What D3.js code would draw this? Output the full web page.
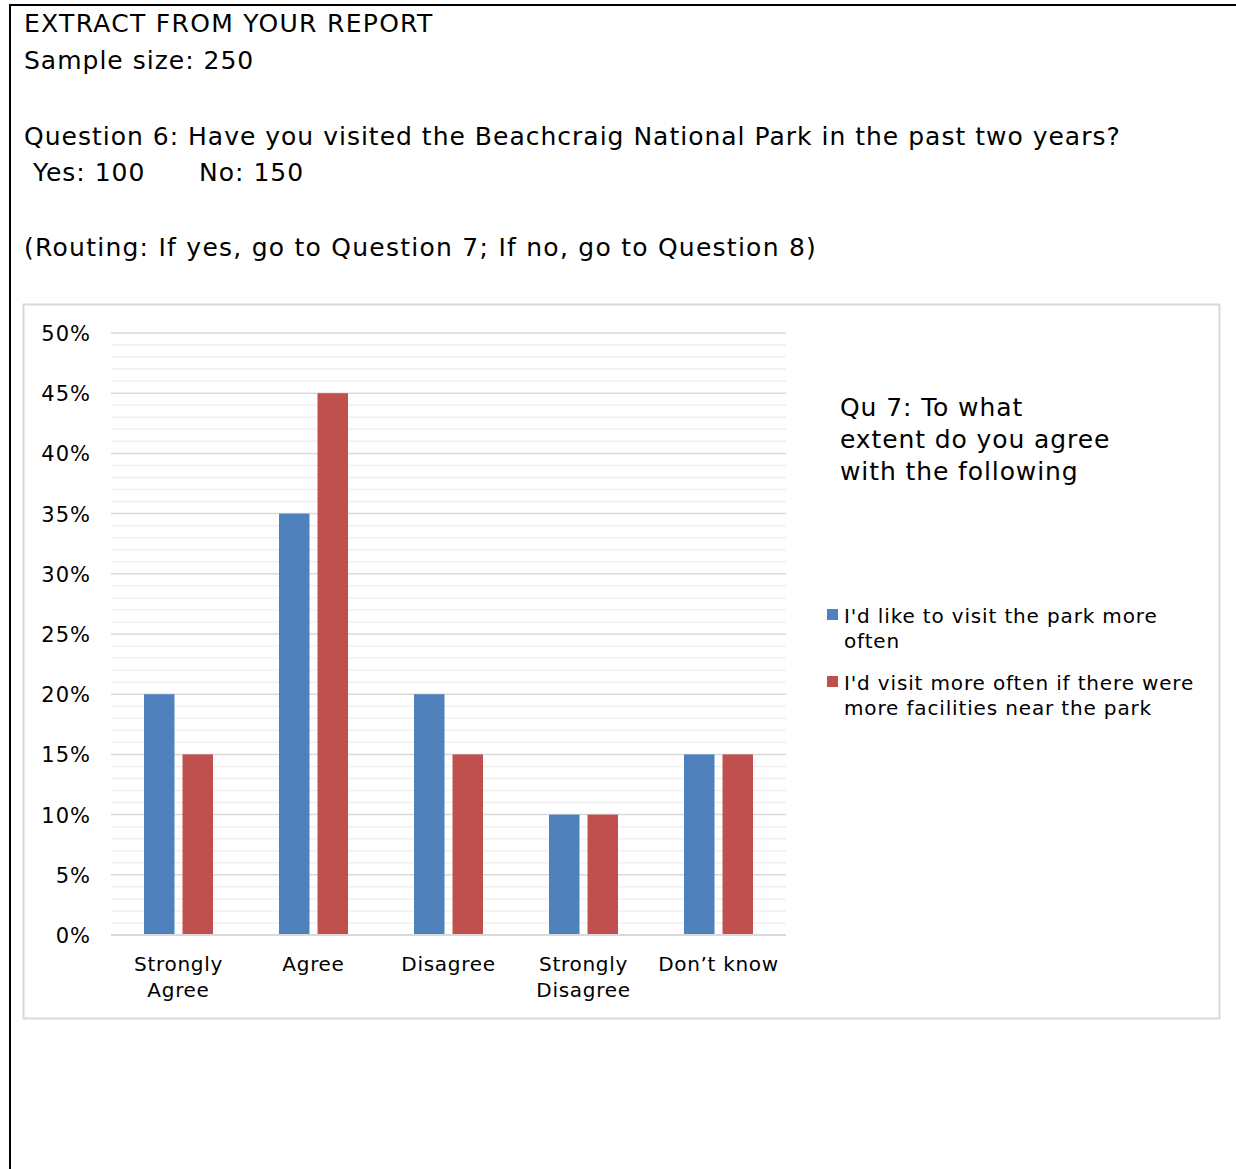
<!DOCTYPE html>
<html>
<head>
<meta charset="utf-8">
<script src="https://cdnjs.cloudflare.com/ajax/libs/d3/7.8.5/d3.min.js"></script>
<style>
  body { margin: 0; background: #fff; }
  svg text { font-family: "DejaVu Sans", Verdana, sans-serif; fill: #000; }
</style>
</head>
<body>
<div id="chart"></div>
<script>
var categories = [["Strongly", "Agree"], ["Agree"], ["Disagree"], ["Strongly", "Disagree"], ["Don\u2019t know"]];
var seriesNames = [["I'd like to visit the park more", "often"], ["I'd visit more often if there were", "more facilities near the park"]];
var likeMore = [20, 35, 20, 10, 15];
var facilities = [15, 45, 15, 10, 15];
var yTicks = [0, 5, 10, 15, 20, 25, 30, 35, 40, 45, 50];
var headerLines = [
    "EXTRACT FROM YOUR REPORT",
    "Sample size: 250",
    "Question 6: Have you visited the Beachcraig National Park in the past two years?",
    " Yes: 100\u00a0\u00a0\u00a0\u00a0\u00a0\u00a0No: 150",
    "(Routing: If yes, go to Question 7; If no, go to Question 8)"
];
var legendTitle = ["Qu 7: To what", "extent do you agree", "with the following"];

function init() {
    var W = 1236, H = 1169;
    var colors = ["#4F81BD", "#C0504D"];
    var series = [likeMore, facilities];

    var svg = d3.select("#chart").append("svg")
        .attr("width", W)
        .attr("height", H);

    // outer frame (top + left only visible)
    svg.append("line").attr("x1", 9).attr("x2", W).attr("y1", 5).attr("y2", 5)
        .attr("stroke", "#000").attr("stroke-width", 2);
    svg.append("line").attr("x1", 10).attr("x2", 10).attr("y1", 4).attr("y2", H)
        .attr("stroke", "#000").attr("stroke-width", 2);

    // header text
    var headerY = [32, 69, 145, 181, 256];
    var headerSpacing = [1.3, 1, 1, 1, 1.25];
    svg.selectAll("text.header")
        .data(headerLines)
        .enter()
        .append("text")
        .attr("class", "header")
        .attr("x", 24)
        .attr("y", function(d, i) { return headerY[i]; })
        .attr("font-size", "25px")
        .attr("letter-spacing", function(d, i) { return headerSpacing[i] + "px"; })
        .style("white-space", "pre")
        .text(function(d) { return d; });

    // chart box
    svg.append("rect")
        .attr("x", 23.5).attr("y", 304.5)
        .attr("width", 1196).attr("height", 714)
        .attr("fill", "#fff")
        .attr("stroke", "#d9d9d9")
        .attr("stroke-width", 2);

    var x0 = 111, x1 = 786, yTop = 333, yBot = 935;

    var yScale = d3.scaleLinear().domain([0, 50]).range([yBot, yTop]);
    var xScale = d3.scaleBand().domain(d3.range(categories.length)).range([x0, x1]);
    var xInner = d3.scaleBand().domain([0, 1]).range([0, 69]).paddingInner(0.208);

    // minor gridlines
    svg.append("g")
        .selectAll("line")
        .data(d3.range(0, 51).filter(function(d) { return d % 5 !== 0; }))
        .enter()
        .append("line")
        .attr("x1", x0).attr("x2", x1)
        .attr("y1", function(d) { return yScale(d); })
        .attr("y2", function(d) { return yScale(d); })
        .attr("stroke", "#f0f0f0")
        .attr("stroke-width", 1.5);

    // major gridlines
    svg.append("g")
        .selectAll("line")
        .data(yTicks.slice(1))
        .enter()
        .append("line")
        .attr("x1", x0).attr("x2", x1)
        .attr("y1", function(d) { return yScale(d); })
        .attr("y2", function(d) { return yScale(d); })
        .attr("stroke", "#d9d9d9")
        .attr("stroke-width", 1.5);

    // y axis labels
    var yAxis = d3.axisLeft(yScale)
        .tickValues(yTicks)
        .tickSize(0)
        .tickPadding(20)
        .tickFormat(function(d) { return d + "%"; });
    var gy = svg.append("g").attr("transform", "translate(" + x0 + ",0)").call(yAxis);
    gy.select(".domain").remove();
    gy.selectAll("text")
        .attr("font-family", "DejaVu Sans, Verdana, sans-serif")
        .attr("font-size", "21px")
        .attr("letter-spacing", "1px")
        .attr("fill", "#000")
        .attr("dy", "0.36em");

    // bars
    series.forEach(function(values, s) {
        svg.append("g")
            .selectAll("rect")
            .data(values)
            .enter()
            .append("rect")
            .attr("x", function(d, i) { return xScale(i) + (xScale.bandwidth() - 69) / 2 + xInner(s); })
            .attr("y", function(d) { return yScale(d); })
            .attr("width", xInner.bandwidth())
            .attr("height", function(d) { return yBot - yScale(d); })
            .attr("fill", colors[s]);
    });

    // baseline
    svg.append("line")
        .attr("x1", x0).attr("x2", x1)
        .attr("y1", yScale(0)).attr("y2", yScale(0))
        .attr("stroke", "#d9d9d9")
        .attr("stroke-width", 2);

    // category labels
    var cat = svg.append("g")
        .selectAll("text")
        .data(categories)
        .enter()
        .append("text")
        .attr("text-anchor", "middle")
        .attr("font-size", "20px")
        .attr("letter-spacing", "0.7px")
        .attr("x", function(d, i) { return xScale(i) + xScale.bandwidth() / 2; })
        .attr("y", 971);
    cat.selectAll("tspan")
        .data(function(d) { return d; })
        .enter()
        .append("tspan")
        .attr("x", function() { return d3.select(this.parentNode).attr("x"); })
        .attr("dy", function(d, i) { return i === 0 ? 0 : 26; })
        .text(function(d) { return d; });

    // legend title
    svg.append("g")
        .selectAll("text")
        .data(legendTitle)
        .enter()
        .append("text")
        .attr("x", 840)
        .attr("y", function(d, i) { return 416 + i * 32; })
        .attr("font-size", "25px")
        .attr("letter-spacing", "0.9px")
        .text(function(d) { return d; });

    // legend entries
    var legendY = [623, 690];
    var entry = svg.append("g")
        .selectAll("g")
        .data(seriesNames)
        .enter()
        .append("g");
    entry.append("rect")
        .attr("x", 827)
        .attr("y", function(d, i) { return legendY[i] - 14; })
        .attr("width", 11).attr("height", 11)
        .attr("fill", function(d, i) { return colors[i]; });
    var lt = entry.append("text")
        .attr("font-size", "20px")
        .attr("letter-spacing", "0.85px")
        .attr("y", function(d, i) { return legendY[i]; });
    lt.selectAll("tspan")
        .data(function(d) { return d; })
        .enter()
        .append("tspan")
        .attr("x", 844)
        .attr("dy", function(d, i) { return i === 0 ? 0 : 25; })
        .text(function(d) { return d; });
}

window.onload = init;
</script>
</body>
</html>
